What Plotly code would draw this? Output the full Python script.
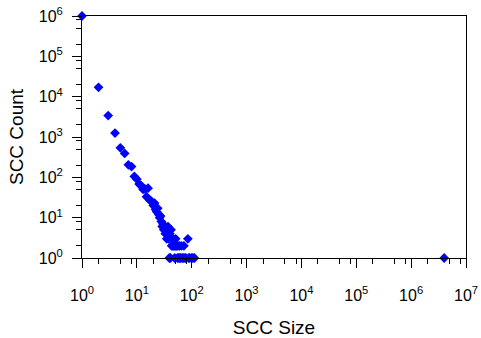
import plotly.graph_objects as go

scc_size = [1, 2, 3, 4, 5, 6, 7, 8, 9, 10, 11, 12, 13, 14, 15, 16, 17, 18, 19, 20,
            21, 22, 23, 24, 25, 26, 27, 28, 29, 30, 31, 32, 33, 34, 35, 36, 37, 38, 39, 40,
            41, 42, 43, 44, 45, 46, 47, 48, 49, 50, 51, 52, 54, 55, 56, 58, 60, 61, 63, 65,
            67, 70, 72, 75, 78, 85, 88, 92, 100, 105, 112, 4000000]
scc_count = [1000000, 17000, 3400, 1250, 540, 390, 205, 185, 105, 90, 68, 62, 50, 52, 33, 54, 28, 26, 24, 20,
             23, 16, 14, 17, 12, 10, 11, 8, 6, 7, 5, 6, 4, 5, 3, 4, 6, 3, 1, 4,
             1, 5, 2, 3, 2, 3, 2, 2, 1, 2, 3, 2, 2, 1, 2, 1, 2, 1, 1, 2,
             1, 1, 2, 1, 1, 3, 1, 1, 1, 1, 1, 1]

x_major = [10 ** k for k in range(0, 8)]
x_labels = [f"10<sup>{k}</sup>" for k in range(0, 8)]
y_major = [10 ** k for k in range(0, 7)]
y_labels = [f"10<sup>{k}</sup>" for k in range(0, 7)]
x_minor = [m * 10 ** k for k in range(0, 7) for m in (2, 5, 8)]
y_minor = [m * 10 ** k for k in range(0, 6) for m in (2, 5, 8)]

FONT = "Liberation Sans, Arial, sans-serif"

fig = go.Figure()
fig.add_trace(go.Scatter(
    x=scc_size, y=scc_count, mode="markers",
    marker=dict(symbol="diamond", size=7.5, color="#0000ff", line=dict(width=0)),
    cliponaxis=False, showlegend=False,
))

axis_common = dict(
    type="log", showgrid=False, zeroline=False, showline=True, linecolor="black",
    linewidth=1, mirror=True, ticks="outside", ticklen=9, tickcolor="black", tickwidth=1,
    tickfont=dict(family=FONT, size=16, color="black"),
    title_font=dict(family=FONT, size=19, color="black"),
    automargin=False,
)

fig.update_xaxes(
    **axis_common, range=[0, 7], tickmode="array", tickvals=x_major, ticktext=x_labels,
    minor=dict(tickmode="array", tickvals=x_minor, ticks="outside", ticklen=5,
               tickcolor="black", showgrid=False),
    ticklabelstandoff=14,
    title=dict(text="SCC Size", standoff=17),
)
fig.update_yaxes(
    **axis_common, range=[0, 6], tickmode="array", tickvals=y_major, ticktext=y_labels,
    minor=dict(tickmode="array", tickvals=y_minor, ticks="outside", ticklen=5,
               tickcolor="black", showgrid=False),
    ticklabelstandoff=6,
    title=dict(text="SCC Count", standoff=10),
)

fig.update_layout(
    width=481, height=338,
    margin=dict(l=82, r=15, t=16, b=80),
    plot_bgcolor="white", paper_bgcolor="white",
    font=dict(family=FONT, color="black"),
)

fig.write_html("out.html")
